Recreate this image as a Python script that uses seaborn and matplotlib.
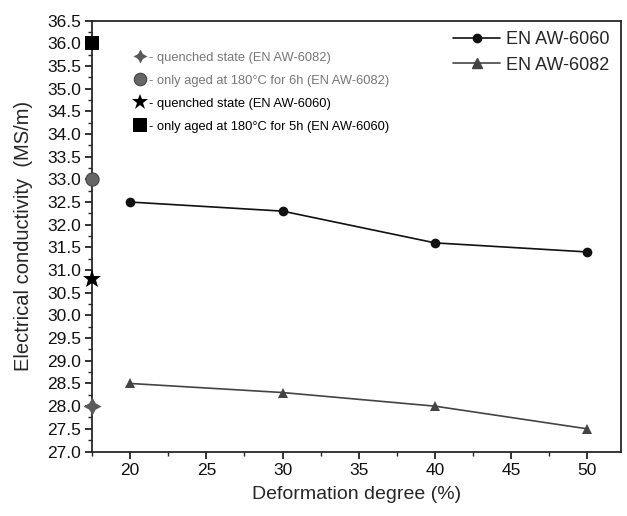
import numpy as np
import pandas as pd
import matplotlib
matplotlib.use('Agg')
import matplotlib.pyplot as plt
from matplotlib.lines import Line2D
from matplotlib.ticker import MultipleLocator, FormatStrFormatter
import seaborn as sns

# data
deformation = [20, 30, 40, 50]
cond_6060 = [32.5, 32.3, 31.6, 31.4]
cond_6082 = [28.5, 28.3, 28.0, 27.5]
series_names = ['EN AW-6060', 'EN AW-6082']

# single reference states plotted on the y axis
ref_x = 17.5
ref_labels = ['- quenched state (EN AW-6082)',
              '- only aged at 180°C for 6h (EN AW-6082)',
              '- quenched state (EN AW-6060)',
              '- only aged at 180°C for 5h (EN AW-6060)']
ref_values = [28.0, 33.0, 30.8, 36.0]

sns.set_style('ticks')
plt.rcParams['font.family'] = ['Liberation Sans', 'DejaVu Sans']

df = pd.DataFrame({
    'deformation': deformation * 2,
    'conductivity': cond_6060 + cond_6082,
    'alloy': [series_names[0]] * 4 + [series_names[1]] * 4,
})

fig, ax = plt.subplots(figsize=(6.27, 5.16), dpi=100)
fig.subplots_adjust(left=0.147, right=0.99, top=0.96, bottom=0.125)

sns.lineplot(data=df, x='deformation', y='conductivity', hue='alloy', style='alloy',
             palette={series_names[0]: '#111111', series_names[1]: '#444444'},
             markers={series_names[0]: 'o', series_names[1]: '^'},
             dashes=False, markersize=7, markeredgewidth=0, linewidth=1.2, ax=ax,
             legend=False)

ref_markers = [(4, 1, 0), 'o', '*', 's']
ref_colors = ['#5a5a5a', '#666666', '#000000', '#000000']
ref_sizes = [13, 9.5, 14, 9.5]
for v, m, c, s in zip(ref_values, ref_markers, ref_colors, ref_sizes):
    ax.plot([ref_x], [v], marker=m, color=c, markersize=s, markeredgewidth=0.8 if m == 'o' else 0,
            markeredgecolor='#444444', linestyle='none', clip_on=False, zorder=5)

ax.set_xlim(17.5, 52.2)
ax.set_ylim(27.0, 36.5)
ax.xaxis.set_major_locator(MultipleLocator(5))
ax.xaxis.set_minor_locator(MultipleLocator(2.5))
ax.yaxis.set_major_locator(MultipleLocator(0.5))
ax.yaxis.set_minor_locator(MultipleLocator(0.25))
ax.yaxis.set_major_formatter(FormatStrFormatter('%.1f'))
ax.tick_params(which='major', direction='out', length=5, width=1.2, labelsize=12.5,
               colors='#111111', pad=3)
ax.tick_params(which='minor', direction='out', length=3, width=1.0)
for sp in ax.spines.values():
    sp.set_linewidth(1.3)

ax.set_xlabel('Deformation degree (%)', fontsize=14, labelpad=6)
ax.set_ylabel('Electrical conductivity  (MS/m)', fontsize=14.5, labelpad=10)

# series legend, upper right
handles = [Line2D([], [], color='#111111', marker='o', markersize=6, linewidth=1.2),
           Line2D([], [], color='#444444', marker='^', markersize=7, linewidth=1.2)]
leg1 = ax.legend(handles, series_names, loc='upper right', bbox_to_anchor=(1.0, 1.0),
                 frameon=False, fontsize=13, handlelength=2.6, handletextpad=0.35,
                 labelspacing=0.45, borderaxespad=0.2)
ax.add_artist(leg1)

# reference states legend, upper left
ref_handles = [Line2D([], [], marker=m, color=c, markersize=s, linestyle='none',
                      markeredgewidth=0.8 if m == 'o' else 0, markeredgecolor='#444444')
               for m, c, s in zip(ref_markers, ref_colors, [10, 9, 12, 9.5])]
leg2 = ax.legend(ref_handles, ref_labels, loc='upper left', bbox_to_anchor=(0.069, 0.94),
                 frameon=False, fontsize=9.3, handlelength=1.0, handletextpad=0.2,
                 labelspacing=0.85, borderaxespad=0)
for t, c in zip(leg2.get_texts(), ['#777777', '#777777', '#000000', '#000000']):
    t.set_color(c)

fig.savefig('out.png', dpi=100)
